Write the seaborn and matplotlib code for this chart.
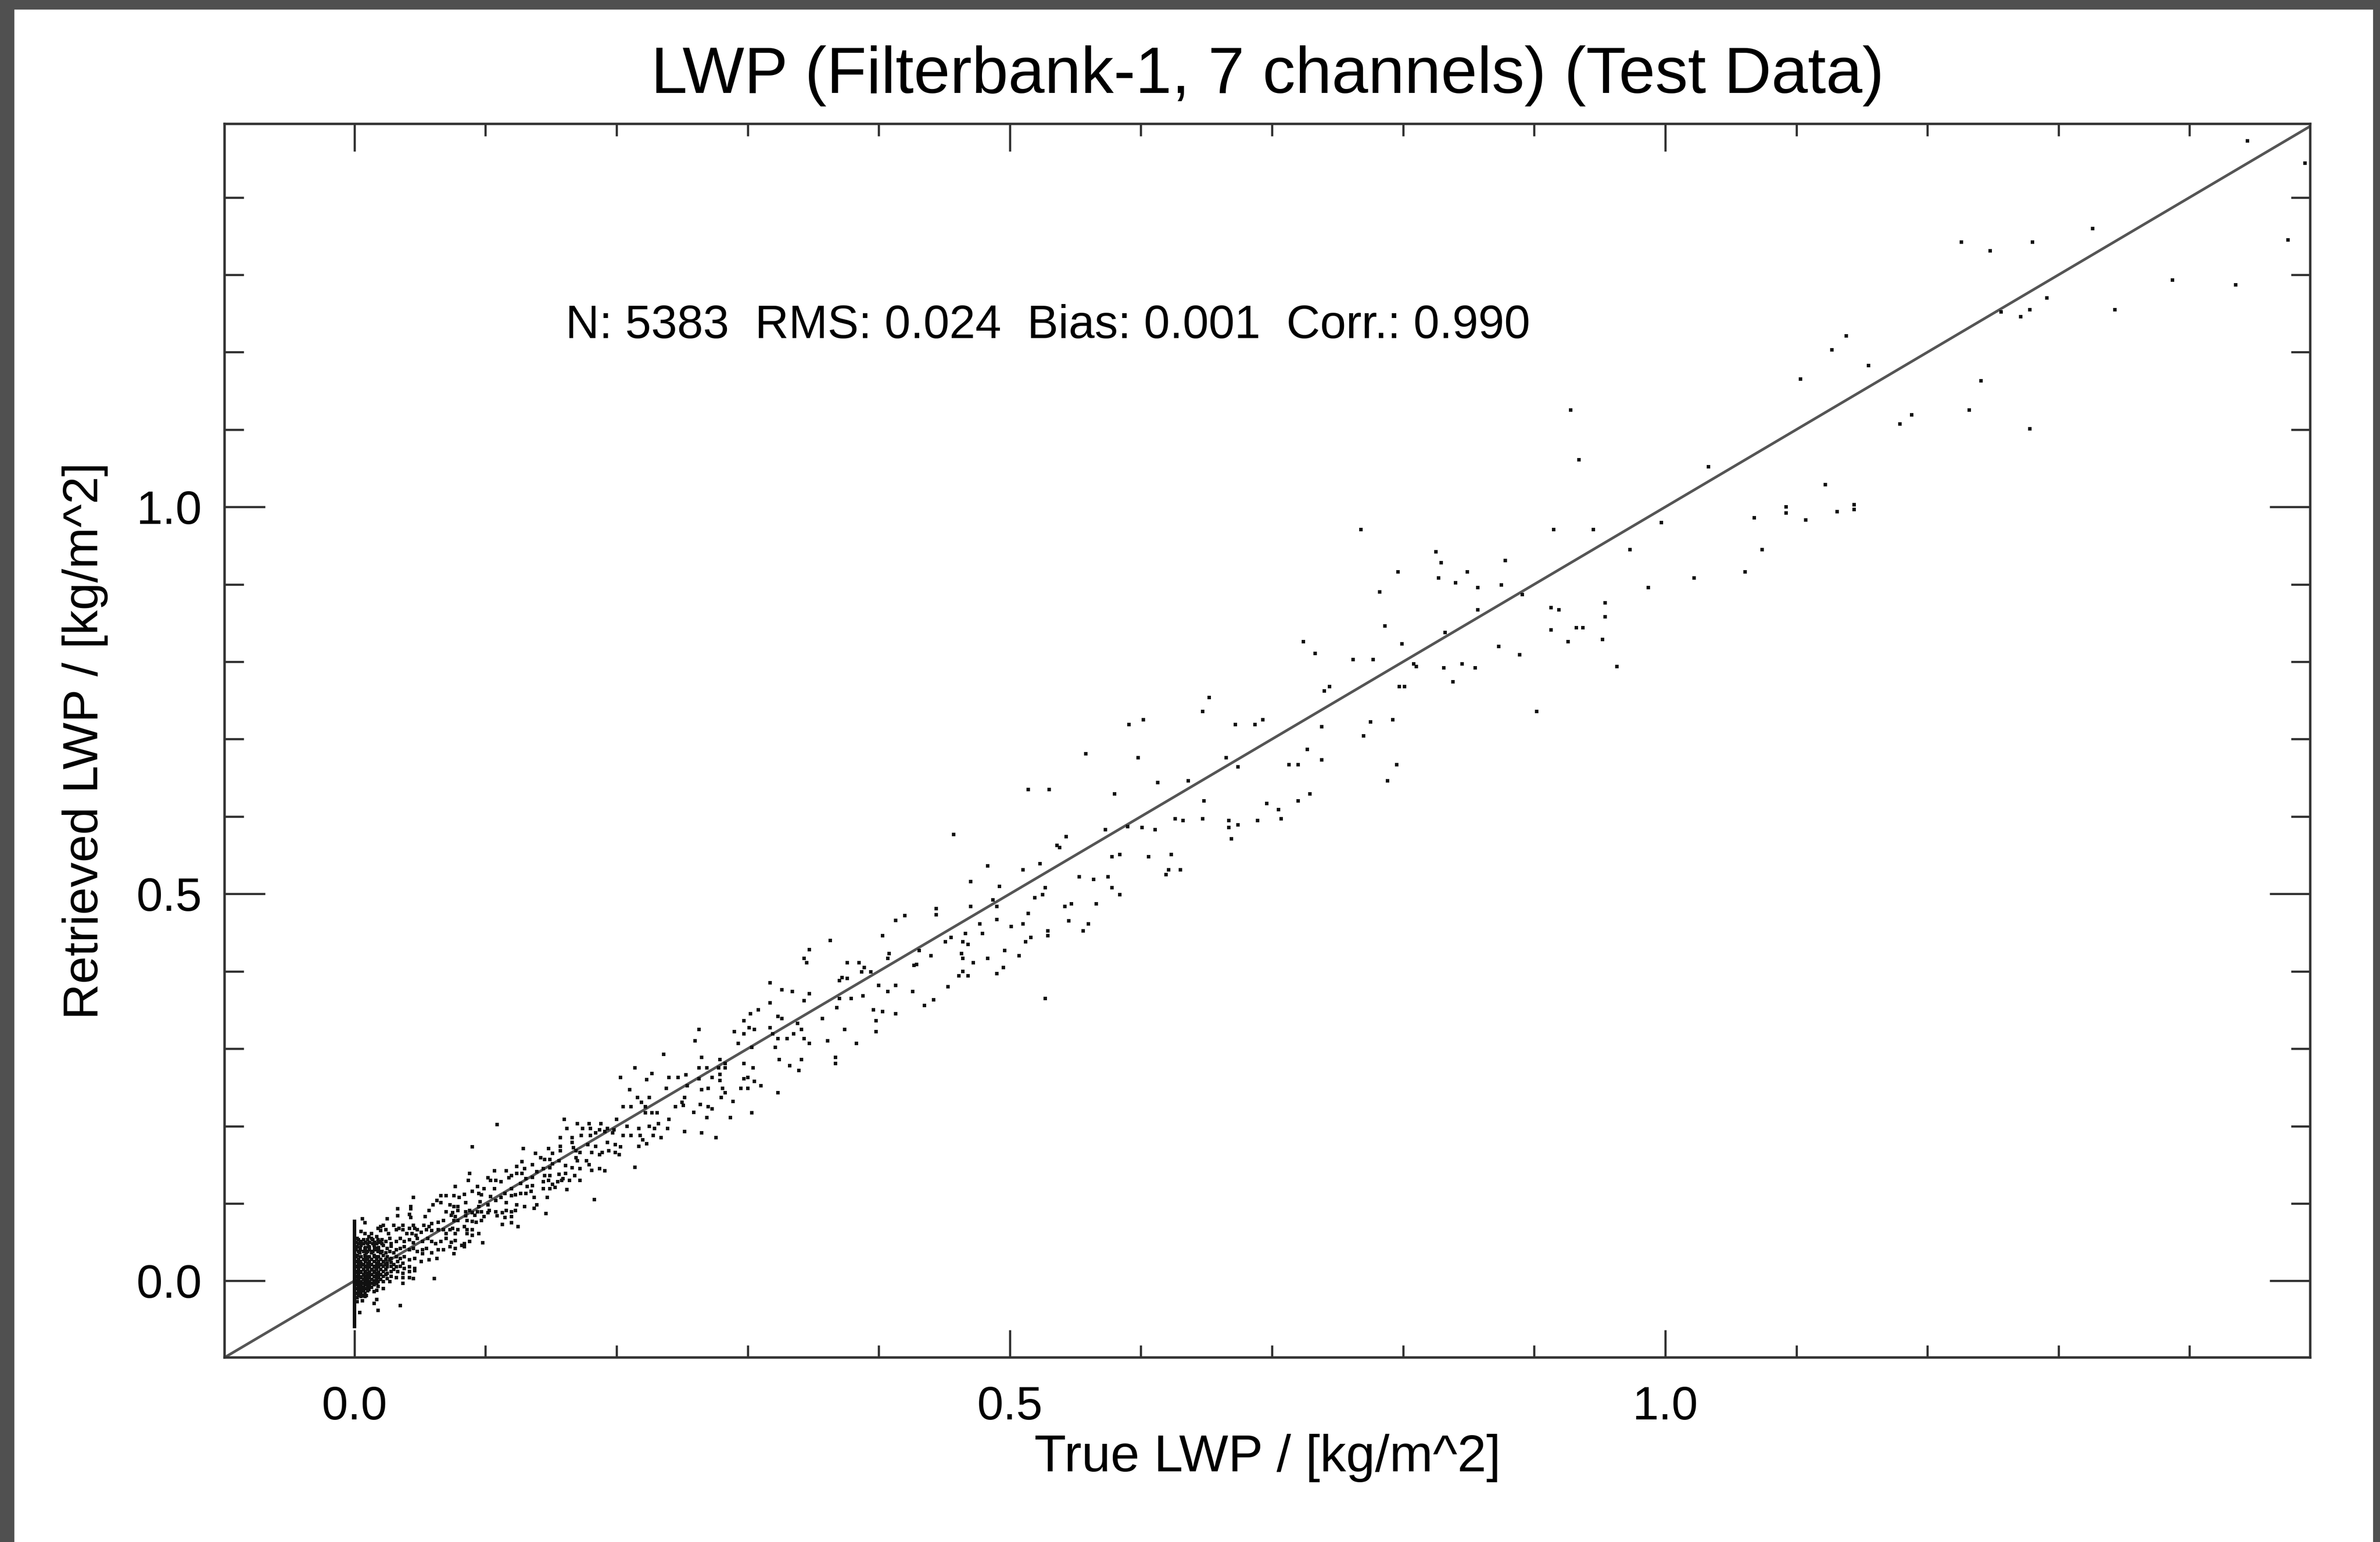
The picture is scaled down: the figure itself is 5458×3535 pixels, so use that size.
import matplotlib
matplotlib.use("Agg")
import matplotlib.pyplot as plt
from matplotlib.patches import Rectangle
from matplotlib.ticker import FixedLocator, MultipleLocator
import pandas as pd
import seaborn as sns

# ---------------- text ----------------
title_text = "LWP (Filterbank-1, 7 channels) (Test Data)"
xlabel_text = "True LWP / [kg/m^2]"
ylabel_text = "Retrieved LWP / [kg/m^2]"
stats_text = "N: 5383  RMS: 0.024  Bias: 0.001  Corr.: 0.990"
major_ticks = [0.0, 0.5, 1.0]
major_tick_labels = ["0.0", "0.5", "1.0"]

# ---------------- data ----------------
# clear-sky cases: true LWP = 0
zero_ret = [0.077, 0.073, 0.069, 0.065, 0.061, 0.057, 0.053, 0.049, 0.045, 0.041,
            0.037, 0.033, 0.029, 0.025, 0.021, 0.017, 0.013, 0.009, 0.005, 0.001,
            -0.003, -0.007, -0.011, -0.015, -0.019, -0.023, -0.027, -0.031, -0.035,
            -0.039, -0.043, -0.047, -0.051, -0.055, -0.059]
zero_true = [0.0] * len(zero_ret)

# dense cluster near the origin (true, retrieved)
core_pts = [
    (0.090, 0.173), (0.129, 0.171), (0.148, 0.171), (0.138, 0.165), (0.151, 0.165), (0.142, 0.159),
    (0.145, 0.157), (0.149, 0.157), (0.128, 0.154), (0.136, 0.150), (0.151, 0.151),
    (0.124, 0.148), (0.130, 0.145), (0.144, 0.145), (0.149, 0.146), (0.088, 0.139), (0.107, 0.142),
    (0.116, 0.142), (0.120, 0.136), (0.124, 0.139), (0.128, 0.139), (0.139, 0.141), (0.145, 0.136),
    (0.149, 0.136), (0.102, 0.133), (0.104, 0.130), (0.108, 0.130), (0.112, 0.128), (0.118, 0.133),
    (0.131, 0.132), (0.136, 0.134), (0.148, 0.130), (0.087, 0.130), (0.151, 0.125), (0.144, 0.128),
    (0.077, 0.122), (0.094, 0.122), (0.099, 0.119), (0.107, 0.119), (0.120, 0.119), (0.127, 0.126),
    (0.132, 0.122), (0.136, 0.123), (0.144, 0.119), (0.149, 0.119), (0.090, 0.116), (0.095, 0.113),
    (0.084, 0.112), (0.097, 0.111), (0.104, 0.109), (0.115, 0.113), (0.123, 0.111), (0.127, 0.113),
    (0.131, 0.113), (0.112, 0.108), (0.108, 0.104), (0.120, 0.110), (0.135, 0.116), (0.137, 0.108),
    (0.147, 0.108), (0.045, 0.108), (0.066, 0.110), (0.070, 0.110), (0.076, 0.110), (0.080, 0.108),
    (0.063, 0.104), (0.066, 0.101), (0.085, 0.101), (0.096, 0.102), (0.102, 0.098), (0.116, 0.101),
    (0.124, 0.098), (0.130, 0.096), (0.139, 0.098), (0.137, 0.094), (0.073, 0.098), (0.076, 0.096),
    (0.079, 0.096), (0.060, 0.098), (0.095, 0.096), (0.103, 0.091),
    (0.033, 0.093), (0.043, 0.096), (0.043, 0.093), (0.057, 0.091), (0.070, 0.089), (0.075, 0.088),
    (0.079, 0.091), (0.085, 0.089), (0.088, 0.091), (0.090, 0.088), (0.094, 0.089), (0.097, 0.089),
    (0.102, 0.088), (0.108, 0.089), (0.113, 0.088), (0.116, 0.091), (0.120, 0.089), (0.123, 0.091),
    (0.146, 0.087), (0.033, 0.084), (0.042, 0.086), (0.043, 0.082), (0.054, 0.083), (0.074, 0.085),
    (0.077, 0.083), (0.085, 0.084), (0.092, 0.085), (0.099, 0.083), (0.109, 0.084), (0.115, 0.082),
    (0.120, 0.083),
    (0.006, 0.080), (0.025, 0.080), (0.008, 0.075), (0.020, 0.070), (0.022, 0.072), (0.030, 0.072),
    (0.037, 0.072), (0.045, 0.072), (0.053, 0.072), (0.059, 0.074), (0.064, 0.076), (0.068, 0.078),
    (0.076, 0.078), (0.079, 0.078), (0.086, 0.078), (0.090, 0.077), (0.097, 0.078), (0.093, 0.076),
    (0.113, 0.073), (0.120, 0.075), (0.125, 0.070),
    (0.005, 0.064), (0.008, 0.061), (0.013, 0.061), (0.018, 0.068), (0.020, 0.065), (0.024, 0.066),
    (0.026, 0.061), (0.032, 0.066), (0.034, 0.068), (0.037, 0.066), (0.042, 0.068), (0.046, 0.068),
    (0.048, 0.066), (0.051, 0.063), (0.055, 0.066), (0.057, 0.070), (0.059, 0.065), (0.064, 0.066),
    (0.068, 0.066), (0.073, 0.066), (0.075, 0.068), (0.079, 0.066), (0.084, 0.070), (0.086, 0.066),
    (0.090, 0.066), (0.095, 0.061), (0.070, 0.061), (0.077, 0.061), (0.086, 0.061), (0.090, 0.059),
    (0.044, 0.061), (0.040, 0.061), (0.047, 0.059),
    (0.002, 0.055), (0.005, 0.051), (0.011, 0.057), (0.013, 0.055), (0.017, 0.057), (0.020, 0.051),
    (0.024, 0.051), (0.027, 0.055), (0.032, 0.051), (0.035, 0.055), (0.038, 0.051), (0.042, 0.053),
    (0.045, 0.049), (0.048, 0.055), (0.052, 0.051), (0.056, 0.055), (0.059, 0.051), (0.062, 0.048),
    (0.066, 0.051), (0.070, 0.055), (0.074, 0.050), (0.077, 0.052), (0.082, 0.046), (0.088, 0.051),
    (0.084, 0.048), (0.098, 0.049),
    (0.002, 0.044), (0.005, 0.046), (0.008, 0.042), (0.011, 0.044), (0.015, 0.046), (0.018, 0.042),
    (0.022, 0.046), (0.025, 0.042), (0.028, 0.045), (0.032, 0.040), (0.035, 0.042), (0.038, 0.044),
    (0.042, 0.040), (0.045, 0.042), (0.048, 0.038), (0.052, 0.040), (0.055, 0.042), (0.059, 0.036),
    (0.064, 0.040), (0.068, 0.040), (0.073, 0.044), (0.077, 0.042), (0.084, 0.044), (0.076, 0.035),
    (0.052, 0.035),
    (0.002, 0.033), (0.005, 0.031), (0.008, 0.033), (0.011, 0.031), (0.015, 0.033), (0.018, 0.031),
    (0.022, 0.033), (0.025, 0.031), (0.028, 0.029), (0.032, 0.031), (0.035, 0.029), (0.038, 0.031),
    (0.042, 0.027), (0.046, 0.029), (0.051, 0.025), (0.057, 0.027), (0.063, 0.029), (0.002, 0.025),
    (0.005, 0.023), (0.008, 0.027), (0.011, 0.023), (0.015, 0.025), (0.018, 0.023), (0.022, 0.025),
    (0.025, 0.023), (0.028, 0.024), (0.033, 0.025), (0.037, 0.023),
    (0.002, 0.019), (0.005, 0.018), (0.008, 0.019), (0.011, 0.018), (0.015, 0.019), (0.018, 0.018),
    (0.022, 0.019), (0.025, 0.018), (0.028, 0.019), (0.032, 0.018), (0.035, 0.019), (0.038, 0.016),
    (0.042, 0.018), (0.046, 0.016), (0.002, 0.012), (0.005, 0.012), (0.008, 0.012), (0.011, 0.010),
    (0.015, 0.012), (0.018, 0.010), (0.022, 0.012), (0.025, 0.010), (0.028, 0.012), (0.033, 0.012),
    (0.037, 0.010), (0.042, 0.012), (0.046, 0.013),
    (0.002, 0.006), (0.005, 0.004), (0.008, 0.006), (0.011, 0.004), (0.015, 0.006), (0.018, 0.004),
    (0.022, 0.006), (0.025, 0.003), (0.028, 0.006), (0.032, 0.004), (0.037, 0.004), (0.042, 0.004),
    (0.045, 0.003), (0.061, 0.003), (0.002, 0.000), (0.005, -0.001), (0.008, 0.001), (0.011, -0.001),
    (0.015, 0.000), (0.018, -0.001), (0.022, -0.001), (0.027, -0.001), (0.037, -0.003),
    (0.002, -0.005), (0.005, -0.007), (0.008, -0.005), (0.011, -0.007), (0.002, -0.010), (0.005, -0.012),
    (0.008, -0.010), (0.011, -0.011), (0.015, -0.005), (0.018, -0.007), (0.022, -0.010), (0.017, -0.012),
    (0.015, -0.014), (0.002, -0.016), (0.005, -0.016), (0.008, -0.016),
    (0.002, -0.022), (0.005, -0.020), (0.008, -0.020), (0.002, -0.027), (0.006, -0.026), (0.017, -0.024),
    (0.015, -0.029), (0.035, -0.032), (0.018, -0.038), (0.004, -0.041),
]

# solid black part of the cluster
blob_pts = [
    (0.003, 0.053), (0.007, 0.053), (0.010, 0.053), (0.014, 0.053), (0.018, 0.053), (0.021, 0.053),
    (0.003, 0.048), (0.007, 0.048), (0.010, 0.048), (0.014, 0.048), (0.017, 0.048), (0.021, 0.048), (0.028, 0.048),
    (0.003, 0.038), (0.007, 0.038), (0.010, 0.038), (0.014, 0.038), (0.018, 0.038), (0.021, 0.038), (0.027, 0.038),
    (0.004, 0.036), (0.009, 0.036), (0.013, 0.036), (0.020, 0.036), (0.024, 0.036), (0.030, 0.036),
    (0.003, 0.028), (0.007, 0.028), (0.010, 0.028), (0.013, 0.028), (0.017, 0.028), (0.020, 0.028), (0.024, 0.028), (0.027, 0.028),
    (0.003, 0.021), (0.007, 0.021), (0.010, 0.021), (0.013, 0.021), (0.017, 0.021), (0.020, 0.021), (0.024, 0.021), (0.030, 0.021),
    (0.003, 0.015), (0.007, 0.015), (0.010, 0.015), (0.013, 0.015), (0.017, 0.015), (0.020, 0.015), (0.024, 0.015), (0.030, 0.015),
    (0.003, 0.008), (0.007, 0.008), (0.010, 0.008), (0.013, 0.008), (0.017, 0.008), (0.020, 0.008), (0.024, 0.008),
    (0.003, 0.002), (0.007, 0.002), (0.010, 0.002), (0.013, 0.002), (0.017, 0.002), (0.020, 0.002),
    (0.003, -0.003), (0.007, -0.003), (0.010, -0.003), (0.013, -0.003), (0.017, -0.003),
    (0.003, -0.008), (0.007, -0.008), (0.010, -0.008), (0.013, -0.008),
    (0.003, -0.013), (0.007, -0.013), (0.010, -0.013),
    (0.003, -0.019), (0.006, -0.019), (0.009, -0.019),
    (0.0015, 0.050), (0.0045, 0.050), (0.0085, 0.050), (0.0115, 0.050), (0.0155, 0.050), (0.0185, 0.050),
    (0.0015, 0.043), (0.0045, 0.043), (0.0085, 0.043), (0.0115, 0.043), (0.0155, 0.043), (0.0185, 0.043),
    (0.0015, 0.040), (0.0045, 0.040), (0.0085, 0.040), (0.0115, 0.040), (0.0155, 0.040), (0.0185, 0.040),
    (0.0015, 0.031), (0.0045, 0.031), (0.0085, 0.031), (0.0115, 0.031), (0.0155, 0.031), (0.0185, 0.031),
    (0.0015, 0.025), (0.0045, 0.025), (0.0085, 0.025), (0.0115, 0.025), (0.0155, 0.025), (0.0185, 0.025),
    (0.0015, 0.018), (0.0045, 0.018), (0.0085, 0.018), (0.0115, 0.018), (0.0155, 0.018), (0.0185, 0.018),
    (0.0015, 0.011), (0.0045, 0.011), (0.0085, 0.011), (0.0115, 0.011), (0.0155, 0.011), (0.0185, 0.011),
    (0.0015, 0.005), (0.0045, 0.005), (0.0085, 0.005), (0.0115, 0.005), (0.0155, 0.005), (0.0185, 0.005),
    (0.0015, -0.001), (0.0045, -0.001), (0.0085, -0.001), (0.0115, -0.001), (0.0155, -0.001),
    (0.0015, -0.005), (0.0045, -0.005), (0.0085, -0.005), (0.0115, -0.005),
    (0.0015, -0.010), (0.0045, -0.010), (0.0085, -0.010),
    (0.0015, -0.016), (0.0045, -0.016),
]

# 0.15 < true < 0.43
low_pts = [
    (0.109, 0.202),
    (0.420, 0.472), (0.413, 0.466), (0.403, 0.446), (0.363, 0.440), (0.347, 0.428), (0.343, 0.417),
    (0.345, 0.411), (0.376, 0.411), (0.385, 0.411), (0.389, 0.405), (0.387, 0.399), (0.408, 0.423),
    (0.407, 0.417), (0.427, 0.408), (0.372, 0.392), (0.376, 0.391), (0.370, 0.388), (0.394, 0.399),
    (0.317, 0.385), (0.326, 0.376), (0.334, 0.374), (0.347, 0.371), (0.400, 0.382), (0.407, 0.374),
    (0.413, 0.382), (0.426, 0.374), (0.343, 0.362), (0.370, 0.365), (0.379, 0.365), (0.388, 0.368),
    (0.317, 0.359), (0.368, 0.353), (0.396, 0.350), (0.403, 0.348), (0.413, 0.345), (0.308, 0.350),
    (0.302, 0.345), (0.323, 0.342), (0.326, 0.339), (0.357, 0.339), (0.297, 0.336), (0.398, 0.336),
    (0.338, 0.333), (0.374, 0.325), (0.398, 0.322), (0.290, 0.322), (0.297, 0.319), (0.301, 0.327),
    (0.305, 0.325), (0.317, 0.327), (0.319, 0.319), (0.323, 0.313), (0.330, 0.313), (0.335, 0.319),
    (0.341, 0.325), (0.343, 0.313), (0.347, 0.307), (0.361, 0.310), (0.383, 0.307), (0.263, 0.325),
    (0.260, 0.310), (0.293, 0.307), (0.303, 0.302), (0.321, 0.302),
    (0.236, 0.293), (0.265, 0.289), (0.279, 0.286), (0.324, 0.286), (0.341, 0.286), (0.367, 0.289),
    (0.367, 0.281), (0.297, 0.281), (0.283, 0.281), (0.332, 0.278), (0.339, 0.272), (0.263, 0.275),
    (0.269, 0.275), (0.278, 0.275), (0.283, 0.275), (0.304, 0.275), (0.214, 0.275), (0.227, 0.268),
    (0.203, 0.263), (0.223, 0.260), (0.240, 0.263), (0.247, 0.263), (0.253, 0.266), (0.263, 0.261),
    (0.273, 0.263), (0.279, 0.267), (0.279, 0.259), (0.297, 0.261), (0.300, 0.263), (0.305, 0.258),
    (0.310, 0.252), (0.265, 0.247), (0.270, 0.249), (0.281, 0.249), (0.283, 0.243), (0.295, 0.249),
    (0.300, 0.249), (0.323, 0.243), (0.210, 0.247), (0.238, 0.249), (0.254, 0.252), (0.216, 0.237),
    (0.225, 0.237), (0.252, 0.237), (0.280, 0.237), (0.289, 0.232), (0.219, 0.231), (0.222, 0.225),
    (0.205, 0.225), (0.211, 0.225), (0.245, 0.225), (0.250, 0.231), (0.251, 0.227), (0.264, 0.228),
    (0.270, 0.225), (0.273, 0.222), (0.259, 0.218), (0.222, 0.217), (0.227, 0.217), (0.231, 0.217),
    (0.303, 0.217), (0.200, 0.209), (0.240, 0.209), (0.269, 0.211), (0.287, 0.211), (0.160, 0.209),
    (0.170, 0.203), (0.179, 0.203), (0.188, 0.203), (0.162, 0.197), (0.174, 0.197), (0.180, 0.197),
    (0.187, 0.195), (0.193, 0.197), (0.198, 0.195), (0.208, 0.200), (0.217, 0.197), (0.225, 0.200),
    (0.229, 0.197), (0.232, 0.203), (0.239, 0.197), (0.252, 0.193), (0.265, 0.191), (0.276, 0.185),
    (0.184, 0.191), (0.191, 0.193), (0.197, 0.191), (0.205, 0.188), (0.211, 0.188), (0.218, 0.188),
    (0.220, 0.182), (0.223, 0.177), (0.228, 0.188), (0.234, 0.185), (0.157, 0.185), (0.166, 0.185),
    (0.166, 0.179), (0.173, 0.188), (0.180, 0.188), (0.193, 0.179), (0.199, 0.176), (0.217, 0.174),
    (0.157, 0.174), (0.167, 0.172), (0.169, 0.168), (0.178, 0.176), (0.184, 0.174), (0.203, 0.173),
    (0.202, 0.163), (0.157, 0.168), (0.172, 0.166), (0.181, 0.166), (0.187, 0.163), (0.189, 0.166),
    (0.194, 0.168), (0.199, 0.166), (0.156, 0.155), (0.169, 0.159), (0.170, 0.155), (0.177, 0.155),
    (0.161, 0.149), (0.166, 0.146), (0.172, 0.145), (0.179, 0.150), (0.181, 0.143), (0.187, 0.145),
    (0.191, 0.142), (0.214, 0.147), (0.156, 0.138), (0.159, 0.132), (0.161, 0.139), (0.168, 0.136),
    (0.155, 0.128), (0.158, 0.130), (0.164, 0.130), (0.172, 0.130), (0.153, 0.121), (0.162, 0.118),
    (0.183, 0.105),
]

# 0.43 < true < 0.8
mid_pts = [
    (0.768, 0.971), (0.782, 0.890), (0.786, 0.846), (0.724, 0.826), (0.733, 0.811), (0.762, 0.803),
    (0.777, 0.803), (0.740, 0.762), (0.744, 0.768), (0.652, 0.754), (0.647, 0.736), (0.591, 0.719),
    (0.602, 0.725), (0.672, 0.719), (0.687, 0.719), (0.693, 0.725), (0.738, 0.716), (0.775, 0.722),
    (0.792, 0.725), (0.770, 0.704), (0.558, 0.681), (0.598, 0.676), (0.665, 0.676), (0.674, 0.664),
    (0.713, 0.667), (0.720, 0.667), (0.727, 0.687), (0.738, 0.673), (0.788, 0.646), (0.613, 0.644),
    (0.636, 0.646), (0.514, 0.635), (0.530, 0.635), (0.580, 0.629), (0.648, 0.620), (0.696, 0.617),
    (0.720, 0.620), (0.729, 0.629), (0.705, 0.609), (0.626, 0.597), (0.632, 0.595), (0.647, 0.597),
    (0.667, 0.595), (0.667, 0.586), (0.674, 0.589), (0.669, 0.571), (0.689, 0.595), (0.707, 0.597),
    (0.573, 0.583), (0.590, 0.587), (0.601, 0.586), (0.611, 0.583), (0.457, 0.577), (0.543, 0.574),
    (0.536, 0.563), (0.538, 0.560), (0.578, 0.548), (0.584, 0.551), (0.606, 0.548), (0.623, 0.551),
    (0.483, 0.536), (0.523, 0.539), (0.510, 0.531), (0.621, 0.531), (0.619, 0.525), (0.630, 0.531),
    (0.553, 0.522), (0.564, 0.519), (0.575, 0.522), (0.470, 0.516), (0.492, 0.510), (0.527, 0.508),
    (0.578, 0.508), (0.584, 0.499), (0.487, 0.492), (0.519, 0.495), (0.525, 0.499), (0.444, 0.481),
    (0.444, 0.473), (0.470, 0.484), (0.490, 0.484), (0.542, 0.484), (0.547, 0.487), (0.566, 0.487),
    (0.514, 0.475), (0.545, 0.465), (0.490, 0.467), (0.477, 0.461), (0.501, 0.458), (0.510, 0.461),
    (0.560, 0.461), (0.466, 0.449), (0.479, 0.449), (0.529, 0.452), (0.529, 0.446), (0.556, 0.452),
    (0.451, 0.438), (0.455, 0.444), (0.464, 0.438), (0.468, 0.435), (0.512, 0.438), (0.516, 0.444),
    (0.431, 0.427), (0.496, 0.427), (0.440, 0.420), (0.463, 0.423), (0.464, 0.417), (0.483, 0.417),
    (0.507, 0.420), (0.472, 0.411), (0.429, 0.409), (0.464, 0.400), (0.461, 0.394), (0.468, 0.394),
    (0.490, 0.397), (0.495, 0.405), (0.453, 0.380), (0.527, 0.365), (0.442, 0.363), (0.435, 0.356),
]

# 0.8 < true < 1.13
high_pts = [
    (1.103, 1.165), (0.928, 1.125), (0.934, 1.061), (1.033, 1.052), (1.122, 1.029), (1.092, 1.000),
    (1.092, 0.992), (1.107, 0.983), (1.068, 0.986), (0.997, 0.980), (0.915, 0.971), (0.945, 0.971),
    (1.074, 0.945), (0.973, 0.945), (0.825, 0.942), (0.829, 0.928), (0.878, 0.931), (0.796, 0.916),
    (0.849, 0.916), (0.827, 0.908), (0.840, 0.902), (0.857, 0.896), (0.875, 0.899), (1.061, 0.916),
    (1.022, 0.908), (0.987, 0.896), (0.891, 0.887), (0.857, 0.867), (0.913, 0.870), (0.919, 0.867),
    (0.954, 0.876), (0.954, 0.858), (0.932, 0.844), (0.937, 0.844), (0.913, 0.841), (0.832, 0.838),
    (0.926, 0.826), (0.952, 0.829), (0.799, 0.823), (0.873, 0.820), (0.889, 0.809), (0.808, 0.797),
    (0.810, 0.794), (0.831, 0.792), (0.845, 0.797), (0.855, 0.792), (0.963, 0.794), (0.838, 0.774),
    (0.797, 0.768), (0.801, 0.768), (0.902, 0.736), (0.795, 0.667),
]

# true > 1.13
top_pts = [
    (1.444, 1.473), (1.488, 1.444), (1.326, 1.360), (1.226, 1.342), (1.280, 1.342), (1.248, 1.331),
    (1.475, 1.345), (1.387, 1.293), (1.435, 1.287), (1.291, 1.270), (1.278, 1.255), (1.256, 1.252),
    (1.271, 1.246), (1.343, 1.255), (1.138, 1.221), (1.127, 1.203), (1.155, 1.183), (1.241, 1.163),
    (1.232, 1.125), (1.188, 1.119), (1.179, 1.107), (1.278, 1.101), (1.131, 0.994), (1.144, 1.003),
    (1.144, 0.997),
]

# ---------------- build table ----------------
pairs = core_pts + blob_pts + low_pts + mid_pts + high_pts + top_pts
df = pd.DataFrame({
    "true": zero_true + [p[0] for p in pairs],
    "retrieved": zero_ret + [p[1] for p in pairs],
})

# ---------------- style ----------------
sns.set_theme(style="white")
plt.rcParams["font.family"] = ["Liberation Sans", "DejaVu Sans"]

DPI = 200
fig = plt.figure(figsize=(5458 / DPI, 3535 / DPI), dpi=DPI)
fig.patch.set_facecolor("white")
ax = fig.add_axes([0.09436, 0.11966, 0.87633, 0.80000])
ax.set_facecolor("white")

# 1:1 line
ax.axline((0, 0), (1, 1), color="#555555", lw=2.2, zorder=1)

sns.scatterplot(data=df, x="true", y="retrieved", marker="s", s=10,
                color="#111111", alpha=1.0, linewidth=0, legend=False,
                ax=ax, zorder=2)

ax.set_xlim(-0.099, 1.492)
ax.set_ylim(-0.099, 1.495)

ax.xaxis.set_major_locator(FixedLocator(major_ticks))
ax.yaxis.set_major_locator(FixedLocator(major_ticks))
ax.set_xticklabels(major_tick_labels)
ax.set_yticklabels(major_tick_labels)
ax.xaxis.set_minor_locator(MultipleLocator(0.1))
ax.yaxis.set_minor_locator(MultipleLocator(0.1))

ax.tick_params(axis="both", which="both", direction="in", top=True, right=True,
               bottom=True, left=True, color="#333333", width=1.8,
               labelsize=39, labelcolor="black")
ax.tick_params(axis="x", which="major", length=22.7, pad=23)
ax.tick_params(axis="x", which="minor", length=10)
ax.tick_params(axis="y", which="major", length=33.5, pad=18.7)
ax.tick_params(axis="y", which="minor", length=16)

for sp in ax.spines.values():
    sp.set_visible(True)
    sp.set_color("#333333")
    sp.set_linewidth(2.0)

ax.set_title(title_text, fontsize=54, color="black", y=1.0191, va="baseline")
ax.set_xlabel(xlabel_text, fontsize=43, color="black")
ax.set_ylabel(ylabel_text, fontsize=41, color="black")
ax.xaxis.set_label_coords(0.5, -0.0923)
ax.xaxis.label.set_va("baseline")
ax.yaxis.set_label_coords(-0.0608, 0.5)
ax.yaxis.label.set_va("baseline")

ax.text(0.161, 1.218, stats_text, fontsize=38.5, color="black", ha="left", va="baseline")

# dark frame of the screenshot (top, left, right)
W, H = 5458, 3535
frame_color = "#505050"
fig.add_artist(Rectangle((0, 1 - 20 / H), 1, 20 / H, transform=fig.transFigure,
                         color=frame_color, zorder=10))
fig.add_artist(Rectangle((0, 0), 31 / W, 1, transform=fig.transFigure,
                         color=frame_color, zorder=10))
fig.add_artist(Rectangle((1 - 15 / W, 0), 15 / W, 1, transform=fig.transFigure,
                         color=frame_color, zorder=10))

fig.savefig("out.png", dpi=DPI, facecolor="white")
